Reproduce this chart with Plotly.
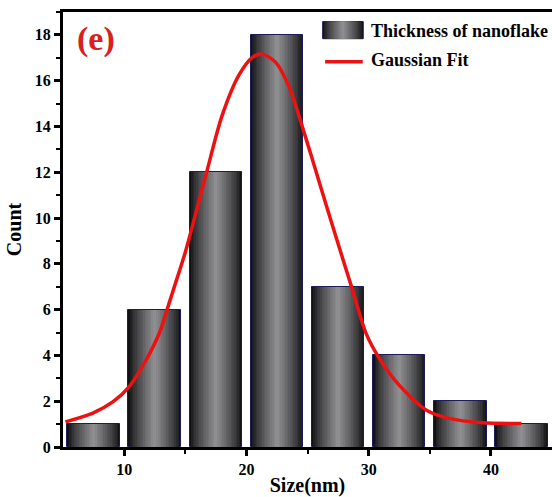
import plotly.graph_objects as go

# Histogram of nanoflake thickness
bin_centers = [7.5, 12.5, 17.5, 22.5, 27.5, 32.5, 37.5, 42.5]
counts = [1, 6, 12, 18, 7, 4, 2, 1]

# Gaussian fit curve, sampled points
fit_x = [5.2, 7.4, 9.1, 10.4, 11.8, 12.9, 13.5, 14.2, 15.0, 16.7, 18.0, 19.4,
         20.5, 21.3, 22.4, 23.5, 24.6, 26.0, 27.2, 28.6, 29.8, 30.9, 32.5,
         34.7, 36.6, 39.3, 42.5]
fit_y = [1.10, 1.47, 1.98, 2.63, 3.80, 5.00, 5.98, 7.15, 8.50, 11.90, 14.45,
         16.25, 17.02, 17.16, 16.80, 15.73, 13.95, 11.50, 9.40, 7.00, 4.95,
         3.85, 2.70, 1.62, 1.25, 1.06, 1.03]

x_ticks = [10, 20, 30, 40]
y_ticks = [0, 2, 4, 6, 8, 10, 12, 14, 16, 18]

bar_label = "Thickness of nanoflake"
fit_label = "Gaussian Fit"
panel_label = "(e)"

SERIF = "Liberation Serif"
BAR_W = 4.3
N_LAYERS = 16
DARK = (18, 18, 20)
LIGHT = (142, 142, 144)
OUTLINE = "#1c1c5c"
RED = "#ee1111"


def shade(k, n):
    t = (k / (n - 1)) ** 0.8
    return "rgb(%d,%d,%d)" % tuple(int(DARK[i] + (LIGHT[i] - DARK[i]) * t) for i in range(3))


fig = go.Figure()

# Cylindrical shading: nested bars, narrower layers get lighter toward the centre
for k in range(N_LAYERS):
    w = BAR_W * (1 - k / N_LAYERS)
    fig.add_trace(go.Bar(
        x=bin_centers, y=counts, width=[w] * len(counts),
        marker=dict(color=shade(k, N_LAYERS),
                    line=dict(color=OUTLINE, width=1 if k == 0 else 0)),
        name=bar_label, showlegend=False,
        hoverinfo="x+y" if k == 0 else "skip",
    ))

fig.add_trace(go.Scatter(
    x=fit_x, y=fit_y, mode="lines", name=fit_label, showlegend=False,
    line=dict(color=RED, width=3.5, shape="spline", smoothing=0.8),
))

# Key in the upper right: shaded swatch + red line, with labels
shapes = []
sx0, sx1, sy0, sy1 = 0.531, 0.614, 0.9386, 0.978
for k in range(N_LAYERS):
    f = 0.5 * k / N_LAYERS
    dx = (sx1 - sx0) * f
    shapes.append(dict(
        type="rect", xref="paper", yref="paper", layer="above",
        x0=sx0 + dx, x1=sx1 - dx, y0=sy0, y1=sy1,
        fillcolor=shade(k, N_LAYERS),
        line=dict(color=OUTLINE, width=1 if k == 0 else 0),
    ))
shapes.append(dict(
    type="line", xref="paper", yref="paper", layer="above",
    x0=0.536, x1=0.613, y0=0.8857, y1=0.8857,
    line=dict(color=RED, width=3.5),
))

key_font = dict(family=SERIF, size=18, color="black", weight="bold")
annotations = [
    dict(text=bar_label, x=0.626, y=0.957, xref="paper", yref="paper",
         showarrow=False, xanchor="left", yanchor="middle", font=key_font),
    dict(text=fit_label, x=0.626, y=0.8899, xref="paper", yref="paper",
         showarrow=False, xanchor="left", yanchor="middle", font=key_font),
    dict(text=panel_label, x=0.0675, y=0.938, xref="paper", yref="paper",
         showarrow=False, xanchor="center", yanchor="middle",
         font=dict(family=SERIF, size=34, color="#d92020", weight="bold")),
]

fig.update_layout(
    width=552, height=497,
    margin=dict(l=63, r=0, t=12, b=50),
    paper_bgcolor="white", plot_bgcolor="white",
    barmode="overlay", bargap=0,
    font=dict(family=SERIF, color="black", weight="bold"),
    showlegend=False,
    shapes=shapes,
    annotations=annotations,
)

fig.update_xaxes(
    range=[5, 45], tickvals=x_ticks, ticktext=[str(v) for v in x_ticks],
    showgrid=False, zeroline=False,
    showline=True, linecolor="black", linewidth=3, mirror=True,
    ticks="outside", ticklen=6, tickwidth=3, tickcolor="black",
    minor=dict(tickvals=[15, 25, 35], ticks="outside", ticklen=4,
               tickwidth=2, tickcolor="black"),
    tickfont=dict(family=SERIF, size=16, color="black", weight="bold"),
    title=dict(text="Size(nm)", standoff=2,
               font=dict(family=SERIF, size=20, color="black", weight="bold")),
)

fig.update_yaxes(
    range=[0, 19], tickvals=y_ticks, ticktext=[str(v) for v in y_ticks],
    showgrid=False, zeroline=False,
    showline=True, linecolor="black", linewidth=3, mirror=False,
    ticks="outside", ticklen=6, tickwidth=3, tickcolor="black",
    minor=dict(dtick=1, ticks="outside", ticklen=4, tickwidth=2,
               tickcolor="black"),
    tickfont=dict(family=SERIF, size=16, color="black", weight="bold"),
    title=dict(text="Count", standoff=8,
               font=dict(family=SERIF, size=20, color="black", weight="bold")),
)

fig.write_html("out.html")
